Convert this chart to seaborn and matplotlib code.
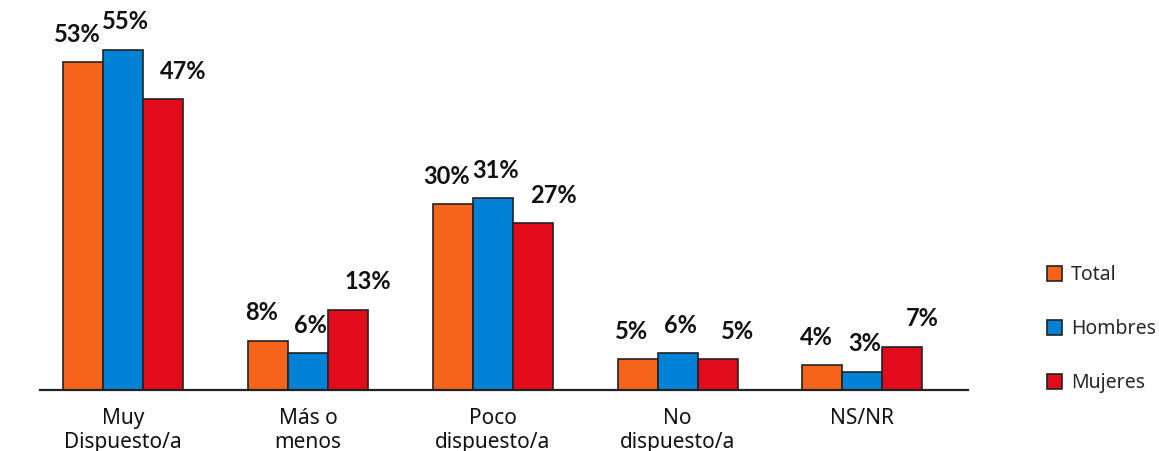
import matplotlib
matplotlib.use("Agg")
import matplotlib.pyplot as plt
import seaborn as sns
import pandas as pd

categories = ["Muy\nDispuesto/a", "Más o\nmenos", "Poco\ndispuesto/a", "No\ndispuesto/a", "NS/NR"]
series = ["Total", "Hombres", "Mujeres"]
total = [53, 8, 30, 5, 4]
hombres = [55, 6, 31, 6, 3]
mujeres = [47, 13, 27, 5, 7]
colors = ["#F5641A", "#0182D6", "#E10B1C"]

rows = []
for name, vals in zip(series, [total, hombres, mujeres]):
    for cat, v in zip(categories, vals):
        rows.append({"categoria": cat, "grupo": name, "valor": v})
df = pd.DataFrame(rows)

sns.set_theme(style="white")
plt.rcParams["font.family"] = ["Noto Sans", "DejaVu Sans"]

fig = plt.figure(figsize=(11.59, 4.51), dpi=100)
ax = fig.add_axes([0.0345, 0.135, 0.8005, 0.865])

sns.barplot(data=df, x="categoria", y="valor", hue="grupo", order=categories,
            hue_order=series, palette=colors, width=0.65, gap=0,
            edgecolor="#222222", linewidth=1.2, saturation=1, ax=ax)

# value labels above each bar, nudged sideways per series so they don't collide
label_dx = [-4.5, 2.0, 14.5]
for container, dx in zip(ax.containers, label_dx):
    for bar, v in zip(container.patches, container.datavalues):
        ax.annotate(f"{int(v)}%", (bar.get_x() + bar.get_width() / 2, bar.get_height()),
                    xytext=(dx, 20), textcoords="offset points",
                    ha="center", va="center", fontsize=17, fontweight="bold",
                    color="#111111", family=["Lato", "DejaVu Sans"])

ax.set_ylim(0, 63)
ax.set_xlim(-0.45, 4.57)
ax.set_xlabel("")
ax.set_ylabel("")
ax.set_yticks([])
ax.tick_params(axis="x", length=0, pad=13, labelsize=15, colors="#111111")
for label in ax.get_xticklabels():
    label.set_linespacing(1.15)
for side in ["top", "right", "left"]:
    ax.spines[side].set_visible(False)
ax.spines["bottom"].set_color("#222222")
ax.spines["bottom"].set_linewidth(1.6)

handles, labels = ax.get_legend_handles_labels()
ax.legend(handles, labels, loc="center left", bbox_to_anchor=(0.897, 0.27),
          bbox_transform=fig.transFigure, frameon=False, fontsize=14,
          handlelength=0.75, handleheight=0.75, handletextpad=0.45,
          labelspacing=1.75, borderaxespad=0)

fig.savefig("out.png", dpi=100)
